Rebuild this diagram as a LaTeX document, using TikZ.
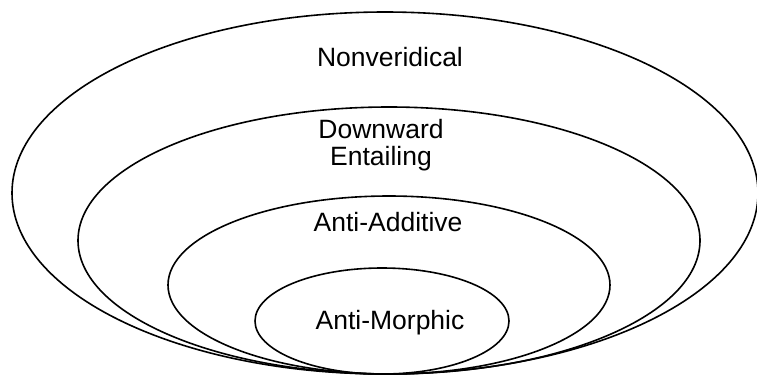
\documentclass[tikz,border=0pt]{standalone}
\usepackage{fontspec}
\setmainfont{Liberation Sans}
\usepackage{tikz}

\begin{document}
\begin{tikzpicture}[x=1pt,y=-1pt,line width=1.6pt,
    lbl/.style={font=\fontsize{26.5}{29}\selectfont, align=center}]
            \definecolor{color1}{RGB}{0, 0, 0}

            \useasboundingbox (0,0) rectangle (757,376);

            \draw[color=color1] (385,193) ellipse (373 and 181);
            \draw[color=color1] (389,240.5) ellipse (311 and 133.5);
            \draw[color=color1] (389,285) ellipse (221 and 89);
            \draw[color=color1] (382,321) ellipse (127 and 53);

            \node[lbl] (nonver) at (390,57) {Nonveridical};
            \node[lbl] (downent) at (381,145) {Downward\\[-2pt]Entailing};
            \node[lbl] (antiadd) at (388,222) {Anti-Additive};
            \node[lbl] (antimor) at (390,323) {Anti-Morphic};
        \end{tikzpicture}
\end{document}
